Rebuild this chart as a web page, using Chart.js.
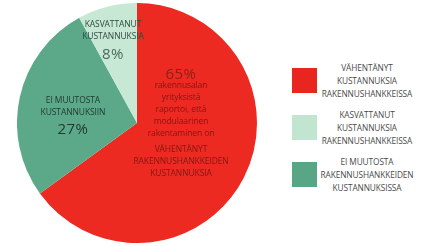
<!DOCTYPE html>
<html>
<head>
<meta charset="utf-8">
<script src="https://cdn.jsdelivr.net/npm/chart.js@4"></script>
<style>
  body { margin: 0; width: 433px; height: 246px; background: #fff; overflow: hidden;
         font-family: 'Open Sans', 'Noto Sans', sans-serif; }
  #wrap { position: absolute; left: 17px; top: 3px; width: 240px; height: 240px; }
  .lbl { position: absolute; text-align: center; white-space: nowrap; transform: translateX(-50%); }
  .lbl div { height: 12px; line-height: 12px; }
  .small { font-size: 8.5px; letter-spacing: -0.1px; }
  .pct { font-size: 15px; line-height: 18px; letter-spacing: 0.5px; }
  .leg { position: absolute; left: 292px; width: 141px; }
  .leg .box { position: absolute; left: 0; width: 25px; height: 25px; }
  .leg .txt { position: absolute; left: 27px; width: 96px; text-align: center; font-size: 8.3px;
              line-height: 13px; color: #4a4a4a; letter-spacing: -0.1px; white-space: nowrap; }
</style>
</head>
<body>
<div id="wrap"><canvas id="chart"></canvas></div>

<div class="lbl" style="left:113px; top:18px; color:#2f4b40;">
  <div class="small">KASVATTANUT</div>
  <div class="small">KUSTANNUKSIA</div>
  <div class="pct" style="margin-top:5px; color:#4a6a5c;">8%</div>
</div>
<div class="lbl" style="left:73px; top:94px; color:#1d3a2f;">
  <div class="small">EI MUUTOSTA</div>
  <div class="small">KUSTANNUKSIIN</div>
  <div class="pct" style="margin-top:4px;">27%</div>
</div>
<div class="lbl" style="left:181px; top:67px; color:#7e1a12;">
  <div class="pct" style="color:#8f2016;">65%</div>
  <div class="small" style="margin-top:0px;">rakennusalan</div>
  <div class="small">yrityksistä</div>
  <div class="small">raportoi, että</div>
  <div class="small">modulaarinen</div>
  <div class="small">rakentaminen on</div>
  <div class="small" style="margin-top:4px;">VÄHENTÄNYT</div>
  <div class="small">RAKENNUSHANKKEIDEN</div>
  <div class="small">KUSTANNUKSIA</div>
</div>

<div id="legend"></div>

<script>
// pie slices, clockwise from 12 o'clock
const sliceLabels = ['VÄHENTÄNYT', 'EI MUUTOSTA', 'KASVATTANUT'];
const sliceValues = [65, 27, 8];
const sliceColors = ['#ec2a22', '#5ca98a', '#c8e8d6'];

// legend entries (as in the picture, top to bottom)
const legendLines = [
  ['VÄHENTÄNYT', 'KUSTANNUKSIA', 'RAKENNUSHANKKEISSA'],
  ['KASVATTANUT', 'KUSTANNUKSIA', 'RAKENNUSHANKKEISSA'],
  ['EI MUUTOSTA', 'RAKENNUSHANKKEIDEN', 'KUSTANNUKSISSA']
];
const legendColors = ['#e8261f', '#c2e5d1', '#58a686'];
const legendTops = [67, 114, 161];

const legend = document.getElementById('legend');
legendLines.forEach((lines, i) => {
  const el = document.createElement('div');
  el.className = 'leg';
  el.style.top = legendTops[i] + 'px';
  el.innerHTML = `<div class="box" style="top:1px;background:${legendColors[i]}"></div>` +
    `<div class="txt" style="top:-6px">${lines.join('<br>')}</div>`;
  legend.appendChild(el);
});

new Chart(document.getElementById('chart'), {
  type: 'pie',
  data: {
    labels: sliceLabels,
    datasets: [{
      data: sliceValues,
      backgroundColor: sliceColors,
      borderWidth: 0
    }]
  },
  options: {
    responsive: true,
    maintainAspectRatio: false,
    animation: false,
    layout: { padding: 0 },
    plugins: {
      legend: { display: false },
      tooltip: { enabled: false }
    }
  }
});
</script>
</body>
</html>
